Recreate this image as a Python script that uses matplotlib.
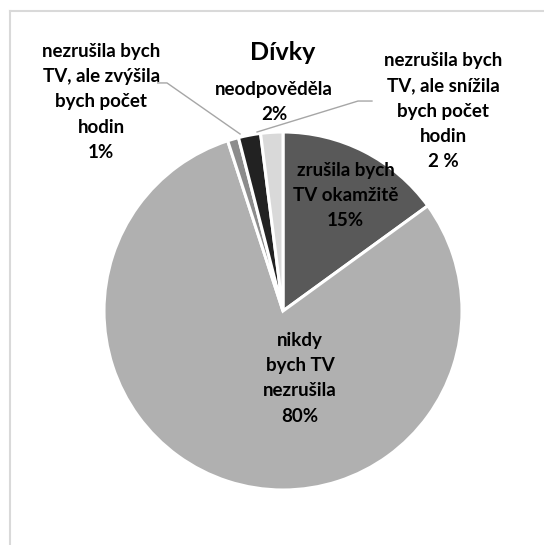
import matplotlib
matplotlib.use("Agg")
import matplotlib.pyplot as plt
from matplotlib.lines import Line2D

# Survey answers (girls), clockwise from 12 o'clock
categories = [
    "zrušila bych\nTV okamžitě",
    "nikdy\nbych TV\nnezrušila",
    "nezrušila bych\nTV, ale zvýšila\nbych počet\nhodin",
    "nezrušila bych\nTV, ale snížila\nbych počet\nhodin",
    "neodpověděla",
]
values = [15, 80, 1, 2, 2]
pct_suffix = ["%", "%", "%", " %", "%"]
colors = ["#595959", "#b0b0b0", "#8c8c8c", "#222222", "#d9d9d9"]
title = "Dívky"

W, H = 544, 545
fig = plt.figure(figsize=(W / 100, H / 100), dpi=100)
fig.patch.set_facecolor("white")

# light frame along the top and left edges
frame_kw = dict(color="#d9d9d9", lw=1.5, transform=fig.transFigure)
fig.add_artist(Line2D([10 / W, 10 / W], [1 - 11 / H, 0], **frame_kw))
fig.add_artist(Line2D([10 / W, 1], [1 - 11 / H, 1 - 11 / H], **frame_kw))

cx, cy, r = 283, 311, 179
ax = fig.add_axes([(cx - r) / W, (H - cy - r) / H, 2 * r / W, 2 * r / H])
ax.pie(values, colors=colors, startangle=90, counterclock=False, radius=1,
       wedgeprops=dict(edgecolor="white", linewidth=2.2))
ax.set_xlim(-1, 1)
ax.set_ylim(-1, 1)
ax.set_aspect("equal")
ax.axis("off")

font = dict(family="Lato", fontweight="bold", fontsize=13.5, color="black",
            ha="center", va="center", linespacing=1.6)

# label positions in pie units (radius = 1)
label_pos = [(0.35, 0.645), (0.095, -0.375), (-1.015, 1.168), (0.894, 1.117), (-0.05, 1.168)]
for name, val, suf, (x, y) in zip(categories, values, pct_suffix, label_pos):
    ax.text(x, y, f"{name}\n{val}{suf}", clip_on=False, **font)

# leader lines for the thin slices
lead_kw = dict(color="#a6a6a6", lw=1.0, clip_on=False)
ax.plot([-0.70, -0.648, -0.240], [1.274, 1.274, 0.989], **lead_kw)
ax.plot([0.497, 0.419, -0.145], [1.173, 1.173, 1.0], **lead_kw)

fig.text(cx / W, 1 - 52 / H, title, family="Lato", fontweight="bold",
         fontsize=18, ha="center", va="center")

fig.savefig("out.png", dpi=100, facecolor="white")
